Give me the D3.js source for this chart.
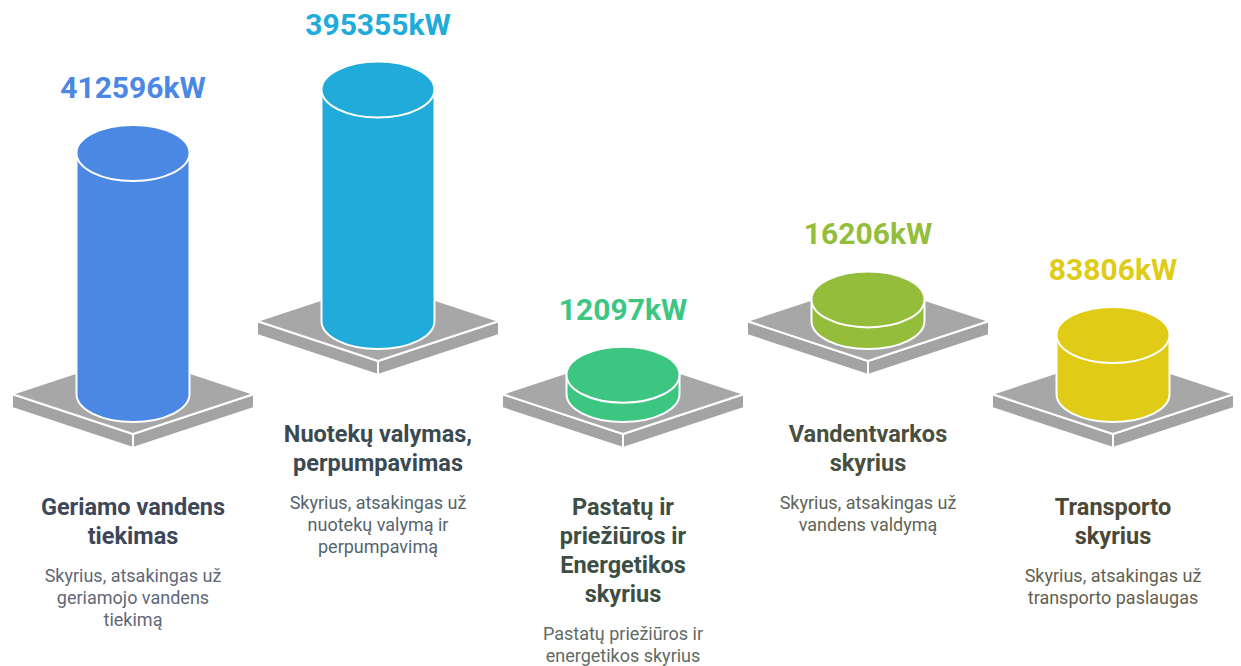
<!DOCTYPE html>
<html>
<head>
<meta charset="utf-8">
<script src="https://cdn.jsdelivr.net/npm/d3@7"></script>
<style>
  body { margin: 0; background: #fff; }
  svg { display: block; font-family: Roboto, "Noto Sans", sans-serif; }
</style>
</head>
<body>
<svg id="chart" width="1241" height="666"></svg>
<script>
// data
var categories = ["Geriamo vandens tiekimas", "Nuotekų valymas, perpumpavimas",
  "Pastatų ir priežiūros ir Energetikos skyrius", "Vandentvarkos skyrius", "Transporto skyrius"];
var values = [412596, 395355, 12097, 16206, 83806];
var unit = "kW";
var titleLines = [
  ["Geriamo vandens", "tiekimas"],
  ["Nuotekų valymas,", "perpumpavimas"],
  ["Pastatų ir", "priežiūros ir", "Energetikos", "skyrius"],
  ["Vandentvarkos", "skyrius"],
  ["Transporto", "skyrius"]
];
var descLines = [
  ["Skyrius, atsakingas už", "geriamojo vandens", "tiekimą"],
  ["Skyrius, atsakingas už", "nuotekų valymą ir", "perpumpavimą"],
  ["Pastatų priežiūros ir", "energetikos skyrius"],
  ["Skyrius, atsakingas už", "vandens valdymą"],
  ["Skyrius, atsakingas už", "transporto paslaugas"]
];
var colors = ["#4a88e4", "#20abda", "#3cc682", "#93bd3b", "#e0cc17"];
var titleColors = ["#3e4759", "#3b4a52", "#3d4f45", "#494f3e", "#4b4838"];
var descColors = ["#5f6778", "#56646c", "#5f6b63", "#5f6455", "#635f50"];

var svg = d3.select("#chart");

var x = d3.scalePoint().domain(categories).range([133, 1113]);
var h = d3.scaleLinear().domain([0, d3.max(values)]).range([12.6, 241]);

var hw = 121, hh = 40, thick = 14;   // platform
var rx = 56.5, ry = 28;              // cylinder

function baseY(i) { return i % 2 ? 321 : 394; }

var g = svg.selectAll("g.item")
  .data(categories)
  .enter()
  .append("g")
  .attr("class", "item");

// platform faces
g.each(function(d, i) {
  var cx = x(d), cy = baseY(i);
  var el = d3.select(this);
  var faces = [
    [[cx - hw, cy], [cx, cy + hh], [cx, cy + hh + thick], [cx - hw, cy + thick]],
    [[cx + hw, cy], [cx, cy + hh], [cx, cy + hh + thick], [cx + hw, cy + thick]],
    [[cx - hw, cy], [cx, cy - hh], [cx + hw, cy], [cx, cy + hh]]
  ];
  el.selectAll("polygon")
    .data(faces)
    .enter()
    .append("polygon")
    .attr("points", function(p){ return p.map(function(q){ return q.join(","); }).join(" "); })
    .attr("fill", function(p, k){ return k < 2 ? "#a3a3a3" : "#a7a7a7"; })
    .attr("stroke", "#fff")
    .attr("stroke-width", 2)
    .attr("stroke-linejoin", "round");
});

// cylinder body
g.append("path")
  .attr("d", function(d, i) {
    var cx = x(d), yb = baseY(i), yt = yb - h(values[i]);
    return "M" + (cx - rx) + "," + yt +
      " L" + (cx - rx) + "," + yb +
      " A" + rx + "," + ry + " 0 0 0 " + (cx + rx) + "," + yb +
      " L" + (cx + rx) + "," + yt + " Z";
  })
  .attr("fill", function(d, i){ return colors[i]; })
  .attr("stroke", "#fff")
  .attr("stroke-width", 2);

// cylinder top
g.append("ellipse")
  .attr("cx", function(d){ return x(d); })
  .attr("cy", function(d, i){ return baseY(i) - h(values[i]); })
  .attr("rx", rx)
  .attr("ry", ry)
  .attr("fill", function(d, i){ return colors[i]; })
  .attr("stroke", "#fff")
  .attr("stroke-width", 2);

// value labels
g.append("text")
  .attr("x", function(d){ return x(d); })
  .attr("y", function(d, i){ return baseY(i) - h(values[i]) - ry - 27; })
  .attr("text-anchor", "middle")
  .attr("font-size", 30)
  .attr("font-weight", 700)
  .attr("fill", function(d, i){ return colors[i]; })
  .text(function(d, i){ return values[i] + unit; });

// titles and descriptions
g.each(function(d, i) {
  var el = d3.select(this);
  var top = baseY(i) + hh + thick + 58.5;
  el.selectAll("text.title")
    .data(titleLines[i])
    .enter()
    .append("text")
    .attr("class", "title")
    .attr("x", x(d))
    .attr("y", function(t, k){ return top + k * 29.2; })
    .attr("dy", "0.35em")
    .attr("text-anchor", "middle")
    .attr("font-size", 23.5)
    .attr("font-weight", 700)
    .attr("fill", titleColors[i])
    .text(function(t){ return t; });

  var dtop = top + (titleLines[i].length - 1) * 29.2 + 40;
  el.selectAll("text.desc")
    .data(descLines[i])
    .enter()
    .append("text")
    .attr("class", "desc")
    .attr("x", x(d))
    .attr("y", function(t, k){ return dtop + k * 22; })
    .attr("dy", "0.35em")
    .attr("text-anchor", "middle")
    .attr("font-size", 18)
    .attr("fill", descColors[i])
    .text(function(t){ return t; });
});
</script>
</body>
</html>
